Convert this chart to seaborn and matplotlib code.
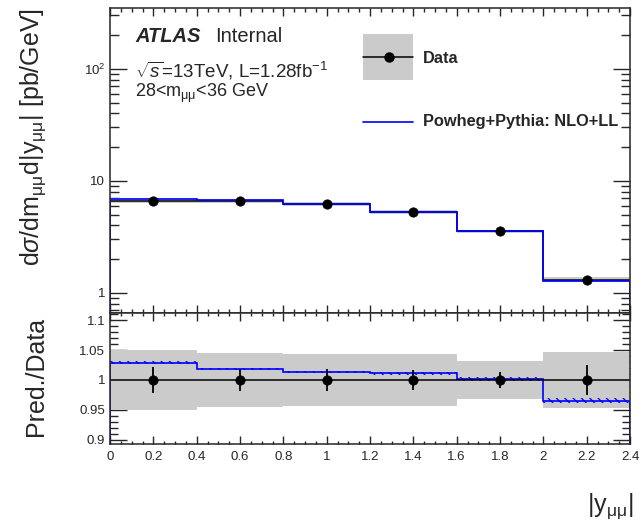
import numpy as np
import pandas as pd
import matplotlib
matplotlib.use('Agg')
import matplotlib.pyplot as plt
import seaborn as sns
from matplotlib.ticker import MultipleLocator, FuncFormatter, LogLocator, FixedLocator
from matplotlib.patches import Rectangle
from matplotlib.lines import Line2D

#%% data
bin_edges = [0.0, 0.4, 0.8, 1.2, 1.6, 2.0, 2.4]
bin_centers = [0.2, 0.6, 1.0, 1.4, 1.8, 2.2]
xsec_data = [6.65, 6.62, 6.19, 5.25, 3.53, 1.31]
data_stat_rel = [0.021, 0.019, 0.018, 0.017, 0.014, 0.025]
data_tot_rel = [0.050, 0.045, 0.043, 0.043, 0.031, 0.046]
ratio_pred = [1.029, 1.018, 1.013, 1.011, 1.002, 0.9655]
ratio_pred_unc = [0.002, 0.002, 0.002, 0.003, 0.003, 0.004]

df = pd.DataFrame({'y': bin_centers, 'xsec': xsec_data,
                   'stat': data_stat_rel, 'tot': data_tot_rel,
                   'ratio': ratio_pred, 'runc': ratio_pred_unc})
df['pred'] = df.xsec * df.ratio
df['one'] = 1.0

sns.set_style('ticks')
plt.rcParams['font.family'] = ['Liberation Sans', 'DejaVu Sans']
plt.rcParams['mathtext.fontset'] = 'custom'
plt.rcParams['mathtext.rm'] = 'Liberation Sans'
plt.rcParams['mathtext.it'] = 'Liberation Sans:italic'
plt.rcParams['mathtext.bf'] = 'Liberation Sans:bold'
plt.rcParams['hatch.linewidth'] = 0.9

W, H = 642, 523
fig = plt.figure(figsize=(6.42, 5.23), dpi=100)
ax1 = fig.add_axes([110/W, 1-313/H, 520/W, 305/H])
ax2 = fig.add_axes([110/W, 1-444/H, 520/W, 131/H])

grey = '#cbcbcb'
blue = '#0000ff'

#%% top panel
xs = np.array(xsec_data)
tot = np.array(data_tot_rel)
ax1.stairs(xs*(1+tot), bin_edges, baseline=xs*(1-tot), fill=True, color=grey, lw=0)
ax1.stairs(xs, bin_edges, color='black', lw=1.1)
ax1.stairs(df.pred.values, bin_edges, color=blue, lw=1.2)
ax1.errorbar(df.y, df.xsec, yerr=df.xsec*df.stat, fmt='none', ecolor='black', lw=1.1)
sns.scatterplot(data=df, x='y', y='xsec', ax=ax1, color='black', s=45,
                edgecolor='black', zorder=5, legend=False)
ax1.set_yscale('log')
ax1.set_xlim(0, 2.4)
ax1.set_ylim(0.66, 350)
ax1.set_xlabel('')
ax1.set_ylabel('')
ax1.yaxis.set_major_locator(FixedLocator([1, 10, 100]))
ax1.yaxis.set_major_formatter(FuncFormatter(
    lambda v, p: {1: '1', 10: '10', 100: r'10$^{2}$'}.get(int(round(v)), '')))
ax1.yaxis.set_minor_locator(LogLocator(base=10, subs=np.arange(2, 10)))
ax1.yaxis.set_minor_formatter(FuncFormatter(lambda v, p: ''))
ax1.xaxis.set_major_locator(MultipleLocator(0.2))
ax1.xaxis.set_minor_locator(MultipleLocator(0.05))
ax1.tick_params(axis='x', which='both', labelbottom=False)
ax1.tick_params(which='both', direction='in', top=True, right=True, width=1.0, labelsize=9.5)
ax1.tick_params(axis='y', which='major', length=12.5)
ax1.tick_params(axis='y', which='minor', length=6.5)
ax1.tick_params(axis='x', which='major', length=5.5)
ax1.tick_params(axis='x', which='minor', length=3)
for s in ax1.spines.values():
    s.set_linewidth(1.1)

#%% ratio panel
r = np.array(ratio_pred)
ru = np.array(ratio_pred_unc)
ax2.stairs(1+tot, bin_edges, baseline=1-tot, fill=True, color=grey, lw=0)
ax2.stairs(r+ru, bin_edges, baseline=r-ru, fill=True, facecolor='none',
           edgecolor=blue, hatch='\\\\\\\\', lw=0)
ax2.stairs(r, bin_edges, color=blue, lw=1.2)
ax2.axhline(1.0, color='black', lw=1.1)
ax2.errorbar(df.y, df.one, yerr=df.stat, fmt='none', ecolor='black', lw=1.3)
sns.scatterplot(data=df, x='y', y='one', ax=ax2, color='black', s=45,
                edgecolor='black', zorder=5, legend=False)
ax2.set_xlim(0, 2.4)
ax2.set_ylim(0.893, 1.112)
ax2.set_xlabel('')
ax2.set_ylabel('')
ax2.yaxis.set_major_locator(MultipleLocator(0.05))
ax2.yaxis.set_minor_locator(MultipleLocator(0.01))
ax2.yaxis.set_major_formatter(FuncFormatter(lambda v, p: '%g' % round(v, 3)))
ax2.xaxis.set_major_locator(MultipleLocator(0.2))
ax2.xaxis.set_minor_locator(MultipleLocator(0.05))
ax2.xaxis.set_major_formatter(FuncFormatter(lambda v, p: '%g' % round(v, 3)))
ax2.tick_params(which='both', direction='in', top=True, right=True, width=1.0, labelsize=9.5)
ax2.tick_params(axis='y', which='major', length=12.5)
ax2.tick_params(axis='y', which='minor', length=6)
ax2.tick_params(axis='x', which='major', length=5.5, pad=5)
ax2.tick_params(axis='x', which='minor', length=2.5)
for s in ax2.spines.values():
    s.set_linewidth(1.1)

#%% labels and texts
fig.text(33/W, 1-137/H, r'd$\sigma$/dm$_{\mathrm{\mu\mu}}$d|y$_{\mathrm{\mu\mu}}$| [pb/GeV]',
         rotation=90, ha='center', va='center', fontsize=18)
fig.text(36/W, 1-376/H, 'Pred./Data', rotation=90, ha='center', va='center', fontsize=18)
fig.text(633/W, 1-512/H, r'|y$_{\mathrm{\mu\mu}}$|', ha='right', va='baseline', fontsize=18)

fig.text(135/W, 1-42/H, 'ATLAS', fontsize=14.5, fontweight='bold', style='italic', va='baseline')
fig.text(215/W, 1-42/H, 'Internal', fontsize=14.5, va='baseline')
fig.text(135/W, 1-77/H, r'$\sqrt{s}$=13TeV, L=1.28fb$^{-1}$', fontsize=13.5, va='baseline')
fig.text(135/W, 1-97/H, r'28<m$_{\mathrm{\mu\mu}}$<36 GeV', fontsize=13, va='baseline')

# legend
fig.patches.append(Rectangle((363/W, 1-80/H), 50/W, 46/H, transform=fig.transFigure,
                             facecolor=grey, edgecolor='none'))
fig.lines.append(Line2D([363/W, 413/W], [1-57/H, 1-57/H], transform=fig.transFigure,
                        color='black', lw=1.1))
fig.lines.append(Line2D([389/W], [1-57/H], transform=fig.transFigure, marker='o',
                        markersize=6.5, color='black'))
fig.lines.append(Line2D([363/W, 413/W], [1-122/H, 1-122/H], transform=fig.transFigure,
                        color=blue, lw=1.2))
fig.text(423/W, 1-63/H, 'Data', fontsize=11.8, fontweight='bold', va='baseline')
fig.text(423/W, 1-126/H, 'Powheg+Pythia: NLO+LL', fontsize=11.8, fontweight='bold', va='baseline')

plt.savefig('out.png', format='png', dpi=100)
